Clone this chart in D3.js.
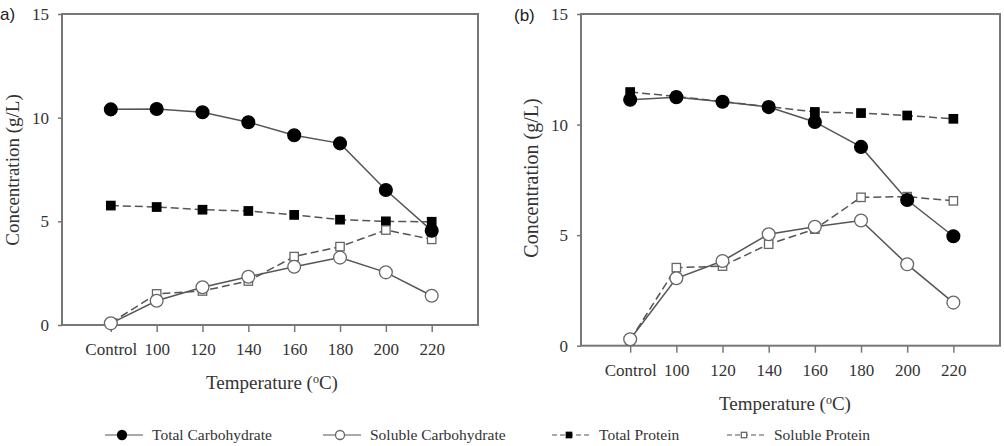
<!DOCTYPE html>
<meta charset="utf-8">
<head>
<style>
  body { margin: 0; background: #fff; }
  .frame { fill: none; stroke: #777; stroke-width: 2px; }
  .axis path { display: none; }
  .axis line { stroke: #777; stroke-width: 1.5px; }
  .title { font-family: "Liberation Serif", "Times New Roman", serif; fill: #333; }
  .solid { fill: none; stroke: #555; stroke-width: 1.5px; }
  .dashed { fill: none; stroke: #555; stroke-width: 1.5px; stroke-dasharray: 8 4; }
</style>
</head>
<body>
<script src="https://d3js.org/d3.v7.min.js"></script>
<script>

// categories on the x axis
var temps = ["Control", "100", "120", "140", "160", "180", "200", "220"];
var yTicks = [0, 5, 10, 15];

// panel (a) values, g/L
var aTotalCarb   = [10.40, 10.42, 10.26, 9.78, 9.15, 8.76, 6.51, 4.55];
var aSolubleCarb = [0.08, 1.17, 1.82, 2.33, 2.81, 3.25, 2.54, 1.41];
var aTotalProt   = [5.76, 5.69, 5.56, 5.50, 5.31, 5.08, 5.00, 4.98];
var aSolubleProt = [0.10, 1.50, 1.64, 2.12, 3.30, 3.78, 4.58, 4.13];

// panel (b) values, g/L
var bTotalCarb   = [11.12, 11.24, 11.03, 10.79, 10.12, 8.99, 6.59, 4.95];
var bSolubleCarb = [0.29, 3.05, 3.83, 5.04, 5.38, 5.66, 3.68, 1.95];
var bTotalProt   = [11.47, 11.27, 11.04, 10.81, 10.57, 10.52, 10.41, 10.26];
var bSolubleProt = [0.26, 3.53, 3.60, 4.59, 5.27, 6.71, 6.74, 6.55];

var seriesNames = ["Total Carbohydrate", "Soluble Carbohydrate", "Total Protein", "Soluble Protein"];

var serif = "'Liberation Serif', 'Times New Roman', serif";

var svg = d3.select("body").append("svg")
    .attr("width", 1004)
    .attr("height", 446);

// series styling: marker shape, fill, line style
var styles = [
  {shape: "circle", fill: "#000", stroke: "#000", line: "solid"},
  {shape: "circle", fill: "#fff", stroke: "#666", line: "solid"},
  {shape: "square", fill: "#000", stroke: "#000", line: "dashed"},
  {shape: "square", fill: "#fff", stroke: "#666", line: "dashed"}
];

function marker(g, st, cx, cy, size) {
  if (st.shape == "circle") {
    g.append("circle")
      .attr("cx", cx).attr("cy", cy).attr("r", size)
      .attr("fill", st.fill).attr("stroke", st.stroke).attr("stroke-width", 1.3);
  } else {
    g.append("rect")
      .attr("x", cx - size * 0.75).attr("y", cy - size * 0.75)
      .attr("width", size * 1.5).attr("height", size * 1.5)
      .attr("fill", st.fill).attr("stroke", st.stroke).attr("stroke-width", 1.3);
  }
}

function panel(opts) {
  var x = d3.scaleLinear().domain([-1.065, 8.01]).range([opts.left, opts.right]);
  var y = d3.scaleLinear().domain([0, 15]).range([opts.bottom, opts.top]);

  svg.append("rect")
    .attr("class", "frame")
    .attr("x", opts.left).attr("y", opts.top)
    .attr("width", opts.right - opts.left)
    .attr("height", opts.bottom - opts.top);

  // x axis
  var gx = svg.append("g")
    .attr("class", "axis")
    .attr("transform", "translate(0," + opts.bottom + ")")
    .call(d3.axisBottom(x)
      .tickValues(d3.range(temps.length))
      .tickFormat(function(i) { return temps[i]; })
      .tickSize(7)
      .tickPadding(11));

  // y axis
  var gy = svg.append("g")
    .attr("class", "axis")
    .attr("transform", "translate(" + opts.left + ",0)")
    .call(d3.axisLeft(y)
      .tickValues(yTicks)
      .tickSize(4)
      .tickPadding(9));

  [gx, gy].forEach(function(g) {
    g.attr("font-family", serif).attr("font-size", 17);
    g.selectAll("text").attr("fill", "#333");
  });

  var line = d3.line()
    .x(function(d, i) { return x(i); })
    .y(function(d) { return y(d); });

  // lines first, then markers on top
  var order = [2, 3, 0, 1];
  order.forEach(function(k) {
    svg.append("path")
      .datum(opts.series[k])
      .attr("class", styles[k].line)
      .attr("d", line);
  });
  var mg = svg.append("g");
  order.forEach(function(k) {
    opts.series[k].forEach(function(v, i) {
      marker(mg, styles[k], x(i), y(v), styles[k].shape == "circle" ? 6.4 : 5.6);
    });
  });

  // axis titles
  var t = svg.append("text")
    .attr("class", "title")
    .attr("x", opts.xTitle[0]).attr("y", opts.xTitle[1])
    .attr("text-anchor", "middle")
    .style("font-size", "19px");
  t.append("tspan").text("Temperature (");
  t.append("tspan").attr("dy", -6).style("font-size", "12px").text("o");
  t.append("tspan").attr("dy", 6).text("C)");

  svg.append("text")
    .attr("class", "title")
    .attr("transform", "translate(" + opts.yTitle[0] + "," + opts.yTitle[1] + ") rotate(-90)")
    .attr("text-anchor", "middle")
    .style("font-size", opts.yTitleSize)
    .text("Concentration (g/L)");

  svg.append("text")
    .attr("x", opts.label[0]).attr("y", opts.label[1])
    .style("font-family", "'Liberation Sans', Arial, sans-serif")
    .style("font-size", "17px")
    .attr("fill", "#222")
    .text(opts.labelText);
}

panel({
  left: 62, right: 478, top: 14, bottom: 325,
  series: [aTotalCarb, aSolubleCarb, aTotalProt, aSolubleProt],
  xTitle: [272, 389], yTitle: [19, 170], yTitleSize: "19px",
  label: [0, 20], labelText: "a)"
});

panel({
  left: 581, right: 1000, top: 14, bottom: 345.7,
  series: [bTotalCarb, bSolubleCarb, bTotalProt, bSolubleProt],
  xTitle: [785, 410], yTitle: [538, 178], yTitleSize: "20px",
  label: [514, 21], labelText: "(b)"
});

// legend
var legendX = [105, 323, 552, 727];
var lg = svg.append("g");
seriesNames.forEach(function(name, k) {
  var x0 = legendX[k], yy = 435;
  lg.append("line")
    .attr("x1", x0).attr("x2", x0 + 38)
    .attr("y1", yy).attr("y2", yy)
    .attr("stroke", "#555").attr("stroke-width", 1.2)
    .attr("stroke-dasharray", styles[k].line == "dashed" ? "5 3" : null);
  marker(lg, styles[k], x0 + 17, yy, styles[k].shape == "circle" ? 4.5 : 3.6);
  lg.append("text")
    .attr("x", x0 + 47).attr("y", yy + 5)
    .style("font-family", serif)
    .style("font-size", "15.5px")
    .attr("fill", "#333")
    .text(name);
});

</script>
</body>
